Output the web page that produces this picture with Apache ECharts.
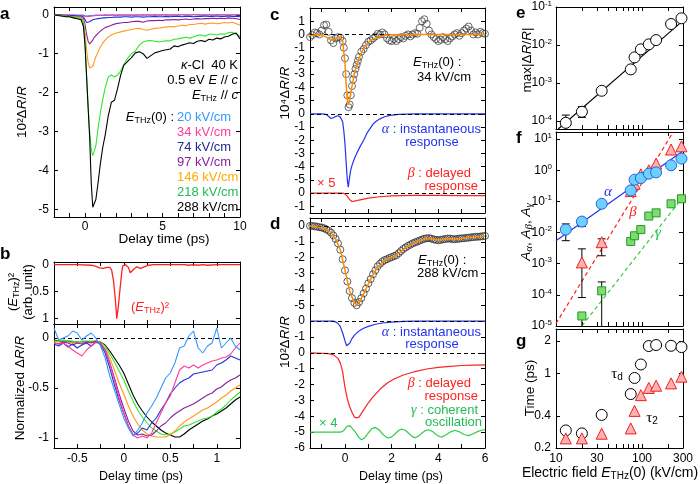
<!DOCTYPE html>
<html><head><meta charset="utf-8">
<script src="https://cdn.jsdelivr.net/npm/echarts@6/dist/echarts.min.js"></script>
<style>html,body{margin:0;padding:0;background:#fff}#c{width:700px;height:484px}</style>
</head><body><div id="c"></div><script>
// ---------------- DATA ----------------
// Panel a : 10^2 dR/R vs delay time (ps)
const tA = [-2,-1.75,-1.5,-1.25,-1,-0.75,-0.5,-0.25,-0.1,0,0.1,0.2,0.3,0.4,0.5,0.6,0.7,0.85,1,1.15,1.3,1.5,1.7,1.9,2.1,2.3,2.5,
  2.75,3,3.25,3.5,3.75,4,4.25,4.5,4.75,5,5.25,5.5,5.75,6,6.25,6.5,6.75,7,7.25,7.5,7.75,8,8.25,8.5,8.75,9,9.25,9.5,9.75,10];
const a20 = [0,0,-0.01,0,-0.01,-0.01,-0.01,-0.01, -0.01,-0.02, -0.03,-0.03,-0.02,-0.02,-0.02,-0.01,-0.01, -0.01,-0.01,-0.01,0, -0.01,0,-0.01,0,0,-0.01,
  0,-0.01,0,0,-0.01,0,0,-0.01,0,0, 0,-0.01,0,0,0,-0.01,0,0,0,0, -0.01,0,0,0,0,0,-0.01,0,0,0];
const a34 = [0,0,-0.01,-0.01,-0.01,-0.01,-0.02,-0.02, -0.02,-0.03, -0.05,-0.05,-0.04,-0.03,-0.03,-0.02,-0.02, -0.02,-0.02,-0.02,-0.01, -0.02,-0.01,-0.01,-0.02,-0.01,-0.01,
  -0.01,-0.01,-0.02,-0.01,0,-0.01,-0.01,0,-0.01,-0.01, 0,-0.01,0,-0.01,0,0,-0.01,0,0,-0.01, 0,0,-0.01,0,0,0,-0.01,0,0,0];
const a74 = [0,-0.01,-0.01,-0.02,-0.02,-0.02,-0.03,-0.03, -0.05,-0.1, -0.2,-0.22,-0.18,-0.15,-0.13,-0.12,-0.11, -0.1,-0.09,-0.08,-0.08, -0.07,-0.07,-0.06,-0.06,-0.06,-0.05,
  -0.05,-0.06,-0.05,-0.05,-0.06,-0.05,-0.05,-0.04,-0.05,-0.05, -0.04,-0.05,-0.04,-0.04,-0.05,-0.04,-0.04,-0.05,-0.04,-0.04, -0.03,-0.04,-0.04,-0.03,-0.04,-0.04,-0.03,-0.04,-0.04,-0.05];
const a97 = [0,-0.01,-0.02,-0.03,-0.03,-0.04,-0.05,-0.06, -0.1,-0.25, -0.5,-0.68,-0.75,-0.72,-0.65,-0.58,-0.53, -0.47,-0.42,-0.37,-0.33, -0.3,-0.27,-0.24,-0.22,-0.21,-0.2,
  -0.2,-0.18,-0.17,-0.17,-0.19,-0.16,-0.15,-0.15,-0.14,-0.15, -0.13,-0.13,-0.12,-0.13,-0.12,-0.11,-0.12,-0.11,-0.1,-0.11, -0.1,-0.1,-0.09,-0.1,-0.09,-0.1,-0.08,-0.09,-0.1,-0.12];
const a146 = [0,-0.02,-0.02,-0.04,-0.04,-0.05,-0.06,-0.08, -0.15,-0.45, -0.9,-1.22,-1.37,-1.4,-1.33,-1.2,-1.08, -0.95,-0.82,-0.72,-0.65, -0.57,-0.52,-0.48,-0.46,-0.44,-0.42,
  -0.4,-0.38,-0.36,-0.35,-0.38,-0.4,-0.37,-0.35,-0.34,-0.33, -0.31,-0.3,-0.31,-0.29,-0.27,-0.28,-0.25,-0.25,-0.23,-0.22, -0.24,-0.22,-0.21,-0.23,-0.22,-0.2,-0.21,-0.19,-0.23,-0.27];
const a218 = [0,-0.02,-0.03,-0.04,-0.05,-0.06,-0.08,-0.1, -0.2,-0.75, -1.55,-2.35,-3.0,-3.45,-3.62,-3.5,-3.37, -2.9,-2.5,-2.17,-1.88, -1.6,-1.55,-1.6,-1.55,-1.45,-1.28,
  -1.12,-1.0,-0.93,-0.78,-0.7,-0.67,-0.66,-0.68,-0.7,-0.68, -0.67,-0.67,-0.63,-0.62,-0.6,-0.58,-0.6,-0.57,-0.53,-0.52, -0.55,-0.5,-0.5,-0.52,-0.49,-0.5,-0.46,-0.45,-0.5,-0.55];
const a288 = [0,-0.02,-0.03,-0.05,-0.05,-0.08,-0.1,-0.13, -0.3,-0.77, -1.57,-2.37,-3.15,-4.3,-4.95,-4.95,-4.75, -4.3,-3.8,-3.4,-3.1, -2.6,-2.25,-2.2,-1.9,-1.55,-1.3,
  -1.2,-1.1,-0.98,-0.95,-1.0,-1.12,-1.05,-0.98,-0.95,-0.92, -0.9,-0.88,-0.8,-0.82,-0.78,-0.75,-0.72,-0.74,-0.68,-0.66, -0.69,-0.63,-0.65,-0.6,-0.62,-0.57,-0.55,-0.5,-0.47,-0.62];
const fieldLabels = ['20 kV/cm','34 kV/cm','74 kV/cm','97 kV/cm','146 kV/cm','218 kV/cm','288 kV/cm'];

// Panel b (top): (E_THz)^2 ; (bottom): normalized dR/R
const tE = [-0.75,-0.5,-0.35,-0.3,-0.26,-0.22,-0.18,-0.15,-0.13,-0.11,-0.09,-0.075,-0.06,-0.04,-0.02,-0.01,0.02,0.05,0.07,0.09,0.11,0.14,0.18,0.22,0.27,0.32,0.5,0.65,0.7,0.75,0.8,0.85,0.9,1.0,1.25];
const E2 = [0,0,0.01,0.03,0.06,0.07,0.05,0.05,0.1,0.3,0.65,1.0,0.8,0.45,0.12,0.02,0,0.05,0.15,0.17,0.08,0.04,0.07,0.04,0.01,0,0,0,0.01,0,0.01,0,0.01,0,0];
const tB = [-0.75,-0.7,-0.65,-0.6,-0.55,-0.5,-0.45,-0.4,-0.35,-0.3,-0.25,-0.2,-0.15,-0.1,-0.05,0,0.05,0.1,0.15,0.2,0.25,0.3,0.35,0.4,0.45,
  0.5,0.55,0.6,0.65,0.7,0.75,0.8,0.85,0.9,0.95,1.0,1.05,1.1,1.15,1.2,1.25];
const n20 = [0.1,-0.02,0.0,0.02,0.07,0.05,-0.02,0.02,0.05,0.0,-0.08, -0.2,-0.38,-0.52,-0.66, -0.8,-0.9,-0.98,-0.92,-0.85,-0.75,-0.68,-0.6,-0.5,-0.4,
  -0.35,-0.25,-0.1,-0.08,0.02,0.07,-0.1,-0.15,-0.08,-0.05, 0.1,-0.1,-0.05,0.0,-0.08,-0.12];
const n34 = [-0.05,-0.06,-0.05,-0.08,-0.12,-0.15,-0.18,-0.12,-0.08,-0.04,-0.05, -0.12,-0.25,-0.42,-0.6, -0.75,-0.88,-0.97,-1.0,-0.98,-1.0,-0.95,-0.85,-0.75,-0.65,
  -0.58,-0.45,-0.32,-0.28,-0.3,-0.27,-0.3,-0.27,-0.25,-0.23, -0.22,-0.2,-0.19,-0.16,-0.1,-0.05];
const n74 = [-0.06,-0.08,-0.05,-0.09,-0.06,-0.1,-0.07,-0.05,-0.08,-0.04,-0.06, -0.15,-0.3,-0.47,-0.62, -0.75,-0.88,-0.97,-0.95,-0.9,-0.92,-0.85,-0.8,-0.72,-0.65,
  -0.56,-0.5,-0.45,-0.42,-0.4,-0.36,-0.35,-0.34,-0.33,-0.32, -0.27,-0.25,-0.22,-0.18,-0.2,-0.22];
const n97 = [-0.05,-0.06,-0.04,-0.05,-0.07,-0.05,-0.06,-0.04,-0.05,-0.03,-0.05, -0.12,-0.25,-0.4,-0.56, -0.7,-0.83,-0.93,-0.97,-0.96,-0.98,-0.97,-0.93,-0.88,-0.85,
  -0.8,-0.76,-0.73,-0.7,-0.68,-0.66,-0.63,-0.6,-0.57,-0.55, -0.51,-0.49,-0.45,-0.42,-0.4,-0.37];
const n146 = [-0.04,-0.04,-0.05,-0.04,-0.05,-0.05,-0.04,-0.05,-0.04,-0.05,-0.05, -0.1,-0.2,-0.32,-0.45, -0.56,-0.68,-0.78,-0.86,-0.92,-0.96,-0.98,-0.99,-0.99,-0.99,
  -0.97,-0.93,-0.88,-0.84,-0.81,-0.78,-0.75,-0.72,-0.7,-0.67, -0.64,-0.6,-0.57,-0.53,-0.5,-0.47];
const n218 = [-0.03,-0.03,-0.02,-0.03,-0.03,-0.04,-0.03,-0.03,-0.03,-0.03,-0.04, -0.08,-0.16,-0.24,-0.33, -0.42,-0.53,-0.63,-0.72,-0.79,-0.85,-0.9,-0.93,-0.96,-0.97,
  -0.96,-0.94,-0.91,-0.88,-0.87,-0.85,-0.83,-0.81,-0.8,-0.78, -0.74,-0.71,-0.67,-0.62,-0.58,-0.54];
const n288 = [-0.02,-0.03,-0.03,-0.03,-0.04,-0.04,-0.04,-0.04,-0.04,-0.04,-0.04, -0.07,-0.13,-0.2,-0.27, -0.35,-0.46,-0.57,-0.66,-0.73,-0.79,-0.84,-0.88,-0.92,-0.95,
  -0.97,-0.99,-0.99,-0.96,-0.92,-0.89,-0.86,-0.83,-0.81,-0.78, -0.76,-0.73,-0.7,-0.66,-0.62,-0.59];

// Panel c (34 kV/cm, 10^4 dR/R): [t, value]
const cData = [[-1.5,-0.2],[-1.4,-0.05],[-1.3,0.15],[-1.2,0.1],[-1.1,0],[-1.0,0.3],[-0.9,0.7],[-0.8,0.75],[-0.7,0.2],[-0.6,-0.45],[-0.5,-0.65],[-0.4,-0.3],[-0.3,-0.2],[-0.2,-0.25],
  [-0.1,-0.5],[-0.05,-1.0],[0,-1.8],[0.05,-3.0],[0.1,-4.6],[0.15,-5.5],[0.2,-5.3],[0.25,-4.6],[0.3,-3.9],[0.35,-3.4],[0.4,-3.0],[0.45,-2.6],[0.5,-2.3],[0.55,-2.0],[0.6,-1.7],
  [0.7,-1.3],[0.8,-1.1],[0.9,-0.8],[1.0,-0.55],[1.1,-0.45],[1.2,-0.3],[1.3,-0.15],[1.4,0.05],[1.5,0],[1.6,0.15],[1.7,0],[1.8,-0.3],[1.9,-0.45],[2.0,-0.5],[2.1,-0.35],[2.2,-0.5],
  [2.3,-0.35],[2.4,-0.2],[2.5,-0.3],[2.6,-0.1],[2.7,0],[2.8,-0.15],[2.9,0],[3.0,0.1],[3.1,0.05],[3.2,0.5],[3.3,1.0],[3.4,1.15],[3.5,0.8],[3.6,0.3],[3.7,0],[3.8,-0.2],[3.9,-0.35],
  [4.0,-0.5],[4.1,-0.4],[4.2,-0.2],[4.3,-0.35],[4.4,-0.5],[4.5,-0.3],[4.6,-0.15],[4.7,0],[4.8,0.1],[4.9,-0.1],[5.0,0.1],[5.1,0.3],[5.2,0.45],[5.3,0.6],[5.4,0.3],[5.5,0],[5.6,0.15],[5.7,0],[5.8,0.2],[5.9,0.1],[6.0,0.05]];
const cFit = [[-1.5,-0.1],[-1.2,0],[-1.0,-0.05],[-0.8,-0.2],[-0.6,-0.4],[-0.5,-0.42],[-0.4,-0.3],[-0.3,-0.2],[-0.2,-0.2],[-0.1,-0.5],[0,-2.2],[0.05,-3.8],[0.1,-5.0],[0.15,-5.3],[0.2,-4.9],
  [0.3,-3.9],[0.4,-3.0],[0.5,-2.3],[0.6,-1.8],[0.7,-1.4],[0.8,-1.05],[1.0,-0.6],[1.2,-0.35],[1.4,-0.2],[1.7,-0.08],[2.0,-0.03],[3.0,0],[6.0,0]];
const cAlpha = [[-1.5,0],[-1.0,0],[-0.8,-0.05],[-0.7,-0.2],[-0.6,-0.35],[-0.5,-0.3],[-0.4,-0.2],[-0.3,-0.15],[-0.2,-0.25],[-0.1,-0.6],[-0.05,-1.3],[0,-2.3],[0.05,-3.7],[0.1,-5.0],
  [0.14,-5.55],[0.18,-5.0],[0.24,-4.3],[0.3,-3.9],[0.4,-3.4],[0.5,-3.0],[0.64,-2.5],[0.8,-2.0],[0.93,-1.5],[1.1,-1.05],[1.21,-0.76],[1.35,-0.55],[1.5,-0.38],[1.7,-0.22],[1.93,-0.12],[2.3,-0.05],[3.0,0],[6.0,0]];
const cBeta = [[-1.5,0],[-0.1,0],[0,-0.05],[0.1,-0.25],[0.2,-0.5],[0.3,-0.63],[0.4,-0.6],[0.6,-0.52],[0.8,-0.45],[1.0,-0.38],[1.5,-0.27],[2.0,-0.2],[2.5,-0.18],[3.0,-0.17],[4.0,-0.17],[5.0,-0.18],[6.0,-0.18]];

// Panel d (288 kV/cm, 10^2 dR/R): [t, value]
const dData = [[-1.5,0],[-1.4,0],[-1.3,-0.02],[-1.2,-0.05],[-1.1,-0.08],[-1.0,-0.1],[-0.9,-0.15],[-0.8,-0.22],[-0.7,-0.3],[-0.6,-0.42],[-0.5,-0.6],[-0.4,-0.82],[-0.3,-1.1],[-0.2,-1.5],
  [-0.1,-2.1],[0,-2.8],[0.1,-3.5],[0.2,-4.1],[0.3,-4.55],[0.4,-4.85],[0.5,-5.0],[0.6,-4.8],[0.7,-4.55],[0.8,-4.25],[0.9,-3.95],[1.0,-3.62],[1.1,-3.35],[1.2,-3.05],[1.3,-2.8],[1.4,-2.55],
  [1.5,-2.38],[1.6,-2.25],[1.7,-2.15],[1.8,-2.1],[1.9,-2.02],[2.0,-1.97],[2.1,-1.9],[2.2,-1.85],[2.3,-1.72],[2.4,-1.58],[2.5,-1.45],[2.6,-1.35],[2.7,-1.26],[2.8,-1.18],[2.9,-1.1],
  [3.0,-1.04],[3.1,-0.98],[3.2,-0.92],[3.3,-0.86],[3.4,-0.81],[3.5,-0.78],[3.6,-0.77],[3.7,-0.8],[3.8,-0.85],[3.9,-0.88],[4.0,-0.9],[4.1,-0.88],[4.2,-0.85],[4.3,-0.82],[4.4,-0.8],
  [4.5,-0.8],[4.6,-0.83],[4.7,-0.84],[4.8,-0.82],[4.9,-0.8],[5.0,-0.78],[5.1,-0.78],[5.2,-0.75],[5.3,-0.74],[5.4,-0.72],[5.5,-0.7],[5.6,-0.69],[5.7,-0.68],[5.8,-0.67],[5.9,-0.65],[6.0,-0.63]];
const dFit = [[-1.5,0],[-1.0,-0.1],[-0.8,-0.22],[-0.6,-0.42],[-0.4,-0.82],[-0.2,-1.5],[0,-2.8],[0.2,-4.1],[0.4,-4.85],[0.5,-4.98],[0.6,-4.85],[0.8,-4.28],[1.0,-3.65],[1.2,-3.08],[1.4,-2.6],
  [1.6,-2.28],[1.8,-2.1],[2.0,-1.98],[2.2,-1.85],[2.4,-1.6],[2.6,-1.38],[2.8,-1.2],[3.0,-1.05],[3.2,-0.93],[3.4,-0.83],[3.6,-0.8],[3.8,-0.84],[4.0,-0.88],[4.2,-0.85],[4.4,-0.81],
  [4.6,-0.82],[4.8,-0.82],[5.0,-0.78],[5.2,-0.75],[5.4,-0.72],[5.6,-0.69],[5.8,-0.67],[6.0,-0.63]];
const dAlpha = [[-1.5,0],[-0.5,0],[-0.4,-0.05],[-0.3,-0.15],[-0.2,-0.35],[-0.1,-0.75],[0,-1.25],[0.07,-1.55],[0.12,-1.62],[0.2,-1.4],[0.3,-1.1],[0.4,-0.9],[0.6,-0.62],[0.8,-0.45],
  [1.0,-0.33],[1.3,-0.2],[1.6,-0.12],[2.0,-0.06],[2.5,-0.02],[3.0,0],[6.0,0]];
const dBeta = [[-1.5,0],[-0.7,-0.05],[-0.5,-0.13],[-0.3,-0.35],[-0.2,-0.65],[-0.1,-1.2],[0,-2.2],[0.1,-2.9],[0.2,-3.4],[0.3,-3.75],[0.4,-4.05],[0.5,-4.1],[0.6,-4.05],[0.8,-3.6],
  [1.0,-3.15],[1.2,-2.78],[1.5,-2.3],[1.8,-1.92],[2.1,-1.65],[2.5,-1.4],[3.0,-1.18],[3.5,-1.02],[4.0,-0.92],[4.5,-0.85],[5.0,-0.8],[5.5,-0.78],[6.0,-0.76]];
const dGamma = [[-1.5,0],[-0.2,0],[-0.1,0.05],[0,0.2],[0.1,0.38],[0.2,0.4],[0.3,0.25],[0.45,0],[0.6,-0.35],[0.71,-0.48],[0.85,-0.35],[1.0,-0.05],[1.15,0.22],[1.29,0.3],[1.45,0.15],
  [1.6,-0.1],[1.75,-0.3],[1.86,-0.37],[2.0,-0.3],[2.15,-0.1],[2.3,0.1],[2.43,0.2],[2.6,0.1],[2.75,-0.1],[2.9,-0.3],[3.0,-0.35],[3.15,-0.25],[3.3,-0.05],[3.45,0.1],[3.57,0.15],
  [3.75,0.05],[3.9,-0.15],[4.05,-0.28],[4.15,-0.3],[4.3,-0.2],[4.5,0],[4.72,0.12],[4.9,0.02],[5.1,-0.15],[5.3,-0.22],[5.5,-0.1],[5.7,0.05],[5.94,0.15],[6.0,0.15]];

// Panels e, f, g vs electric field (kV/cm)
const field = [13,20,34,74,82,97,120,146,218,288];
const maxDR = [9.0e-5,1.76e-4,6.27e-4,2.29e-3,4.74e-3,7.7e-3,1.04e-2,1.35e-2,3.57e-2,5.05e-2];
const eFitLine = [[10.6,6.2e-5],[300,0.044]];
const eErr = [[13,6.2e-5,1.44e-4],[20,1.25e-4,2.4e-4]];
const ampAlpha = [1.25e-2,2.26e-2,8.4e-2,0.226,0.5,0.565,0.78,0.86,1.45,2.38];
const fieldBG = [20,34,74,82,97,120,146,218,288];
const ampBeta = [1.1e-3,4.9e-3,0.215,0.37,0.74,1.0,1.64,4.65,5.9];
const ampGamma = [2.1e-5,1.35e-4,5.2e-3,7.9e-3,1.25e-2,3.4e-2,4.3e-2,8.4e-2,0.122];
const fitAlpha = [[10,5.5e-3],[300,4.2]];
const fitBeta = [[10,1.2e-5],[231,17]];
const fitGamma = [[20,1e-5],[300,0.14]];
const errAlpha = [[13,5.5e-3,1.9e-2],[20,1.56e-2,3.0e-2]];
const errBeta = [[20,8.2e-5,3.0e-3],[34,1.8e-3,6.3e-3],[74,0.17,0.26]];
const errGamma = [[20,1e-5,2.1e-5],[34,1e-5,2.6e-4]];
const tauD = [0.292,0.274,0.408,0.64,0.905,1.21,1.80,1.84,1.81,1.76];
const tau2 = [0.246,0.246,0.272,0.305,0.445,0.625,0.73,0.766,0.805,0.93];

// tick / label lists
const ticksAx = [-2,-1,0,1,2,3,4,5,6,7,8,9,10], labelsAx = [0,5,10];
const ticksAy = [-5,-4,-3,-2,-1,0];
const ticksB = [-0.75,-0.5,-0.25,0,0.25,0.5,0.75,1,1.25], labelsB = [-0.5,0,0.5,1];
const ticksBtop = [0,0.5,1], ticksBbot = [-1,-0.5,0];
const ticksCD = [-1,0,1,2,3,4,5,6], labelsD = [0,2,4,6];
const ticksCy = [-13,-12,-11,-10,-9,-8,-7,-6,-5,-4,-3,-2,-1,0,1];
const ticksDy = [-14,-13,-12,-11,-10,-9,-8,-7,-6,-5,-4,-3,-2,-1,0];
const cOffsets = [0,-6,-12], dOffsets = [0,-6,-8,-13];
const ticksField = [20,30,40,50,60,70,80,90,100,200], labelsField = [10,30,100,300];
const ticksE = [1e-4,1e-3,1e-2,1e-1], ticksF = [1e-5,1e-4,1e-3,1e-2,1e-1,1,10], ticksG = [0.2,0.4,1,2];

// ---------------- CHART ----------------
const F = "'Liberation Sans', Arial, Helvetica, sans-serif";
const SERIF = "'Liberation Serif', 'DejaVu Serif', serif";
const COL = {c20:'#3399ff', c34:'#ff3d9a', c74:'#2030e0', c97:'#8a1f9e', c146:'#ff9a1a', c218:'#2ee82e', c288:'#000',
  t74:'#1b2c8c', t146:'#ffaa00', t218:'#22bb55', blue:'#2233ee', red:'#ff2020', green:'#33cc44', orange:'#ff8c00'};

function zRich(size, color){
  return { i:{fontStyle:'italic', fontSize:size, fill:color, fontFamily:F},
    g:{fontStyle:'italic', fontSize:size+1, fill:color, fontFamily:SERIF},
    s:{fontSize:size+1, fill:color, fontFamily:SERIF},
    sub:{fontSize:Math.round(size*0.68), fill:color, fontFamily:F, padding:[Math.round(size*0.5),0,0,0]},
    gsub:{fontSize:Math.round(size*0.78), fill:color, fontFamily:SERIF, fontStyle:'italic', padding:[Math.round(size*0.5),0,0,0]},
    sup:{fontSize:Math.round(size*0.68), fill:color, fontFamily:F, padding:[0,0,Math.round(size*0.55),0]} };
}

const grids = [], xAxes = [], yAxes = [], series = [];
function axis(o, pos, showLab){
  return {
    type: o.type || 'value', gridIndex: o.grid, position: pos, min: o.min, max: o.max, inverse: !!o.inverse,
    logBase: 10, splitLine:{show:false}, silent:true, name:'',
    axisLine:{show:true, onZero:false, lineStyle:{color:'#000', width:1}},
    axisTick:{show:true, inside:true, length:4, customValues:o.ticks, lineStyle:{color:'#000', width:1}},
    axisLabel:{show: showLab && !!o.labels, customValues:o.labels, formatter:o.fmt, color:'#000', fontFamily:F, fontSize:12, margin:o.margin ?? 5, rich:o.rich}
  };
}
function panel(g, xo, yo){
  const gi = grids.length;
  grids.push({left:g[0], top:g[1], width:g[2], height:g[3], show:false, containLabel:false, outerBoundsMode:'none'});
  xo.grid = gi; yo.grid = gi;
  xAxes.push(axis(xo,'bottom',true), axis(xo,'top',false));
  yAxes.push(axis(yo,'left',true), axis(yo,'right',false));
  return 2*gi;
}
const supFmt = v => '10{sup|' + Math.round(Math.log10(v)) + '}';
const supRich = {sup:{fontSize:8, fontFamily:F, color:'#000', padding:[0,0,7,0]}};

const pA = panel([54,7,186,210],
  {min:-2, max:10, ticks:ticksAx, labels:labelsAx, margin:4},
  {min:-5.2, max:0.2, ticks:ticksAy, labels:ticksAy});
const pB1 = panel([54,262,186,62],
  {min:-0.75, max:1.25, ticks:ticksB},
  {min:-0.05, max:1.1, inverse:true, ticks:ticksBtop, labels:ticksBtop, fmt:v=>String(v)});
const pB2 = panel([54,324,186,124],
  {min:-0.75, max:1.25, ticks:ticksB, labels:labelsB, fmt:v=>String(v)},
  {min:-1.1, max:0.14, ticks:ticksBbot, labels:ticksBbot, fmt:v=>String(v)});
const cLab = v => String(v >= cOffsets[1] + 0.5 ? v - cOffsets[0] : v >= cOffsets[2] + 0.5 ? v - cOffsets[1] : v - cOffsets[2]);
const pC = panel([310,8,175,205],
  {min:-1.5, max:6, ticks:ticksCD},
  {min:-13.5, max:2, ticks:ticksCy, labels:ticksCy, fmt:cLab});
const dLab = v => String(v >= dOffsets[1] + 0.5 ? v - dOffsets[0] : v >= dOffsets[2] + 0.5 ? v - dOffsets[1] : v - dOffsets[2]);
const pD = panel([310,218,175,230],
  {min:-1.5, max:6, ticks:ticksCD, labels:labelsD},
  {min:-14, max:0.5, ticks:ticksDy, labels:ticksDy, fmt:dLab});
const pE = panel([556,7,127,122],
  {type:'log', min:10, max:300, ticks:ticksField},
  {type:'log', min:6.2e-5, max:0.1, ticks:ticksE, labels:ticksE, fmt:supFmt, rich:supRich, margin:4});
const pF = panel([556,132,127,194],
  {type:'log', min:10, max:300, ticks:ticksField},
  {type:'log', min:1e-5, max:17, ticks:ticksF, labels:ticksF, fmt:supFmt, rich:supRich, margin:4});
const pG = panel([556,329,127,119],
  {type:'log', min:10, max:300, ticks:ticksField, labels:labelsField, fmt:v=>String(Math.round(v))},
  {type:'log', min:0.2, max:2.6, ticks:ticksG, labels:ticksG, fmt:v=>String(v)});

function line(ax, data, color, width, dashed, z){
  return {type:'line', xAxisIndex:ax, yAxisIndex:ax, data, symbol:'none', showSymbol:false, silent:true,
    lineStyle:{color, width:width || 1.2, type: dashed ? [4,3] : 'solid'}, z: z || 3, clip:true, animation:false};
}
function scatter(ax, data, symbol, size, fill, stroke, bw, z){
  return {type:'scatter', xAxisIndex:ax, yAxisIndex:ax, data, symbol, symbolSize:size, silent:true, z: z || 5,
    itemStyle:{color:fill, borderColor:stroke, borderWidth: bw || 1, opacity:1}, animation:false};
}
function dashes(ax, levels){
  return {type:'line', xAxisIndex:ax, yAxisIndex:ax, data:[], silent:true, z:1,
    markLine:{silent:true, symbol:'none', animation:false, label:{show:false}, lineStyle:{color:'#000', type:[4,3], width:1},
      data: levels.map(v => ({yAxis:v}))}};
}
function errBars(ax, data, yMin){
  return {type:'custom', xAxisIndex:ax, yAxisIndex:ax, data, z:4, silent:true, clip:true, encode:{x:0, y:[1,2]},
    renderItem(p, api){
      const x = api.value(0), lo = api.value(1), hi = api.value(2);
      const a = api.coord([x, lo]), b = api.coord([x, hi]), w = 4, st = {stroke:'#000', lineWidth:1};
      const ch = [{type:'line', shape:{x1:a[0], y1:a[1], x2:b[0], y2:b[1]}, style:st}];
      if (lo > yMin * 1.05) ch.push({type:'line', shape:{x1:a[0]-w, y1:a[1], x2:a[0]+w, y2:a[1]}, style:st});
      ch.push({type:'line', shape:{x1:b[0]-w, y1:b[1], x2:b[0]+w, y2:b[1]}, style:st});
      return {type:'group', children:ch};
    }};
}
const zip = (xs, ys) => xs.map((x, i) => [x, ys[i]]);
const shift = (pts, off) => pts.map(p => [p[0], p[1] + off]);

// a
[[a20,COL.c20],[a34,COL.c34],[a74,COL.c74],[a97,COL.c97],[a146,COL.c146],[a218,COL.c218],[a288,COL.c288]]
  .forEach(([d,c], i) => series.push(line(pA, zip(tA, d), c, 1.1, false, 3 + i)));
// b
series.push(line(pB1, zip(tE, E2), COL.red, 1.3));
series.push(dashes(pB2, [0]));
[[n20,COL.c20],[n34,COL.c34],[n74,COL.c74],[n97,COL.c97],[n146,COL.c146],[n218,COL.c218],[n288,COL.c288]]
  .forEach(([d,c], i) => series.push(line(pB2, zip(tB, d), c, 1.1, false, 9 - i)));
// c
series.push(dashes(pC, cOffsets));
series.push(scatter(pC, shift(cData, cOffsets[0]), 'circle', 7, 'rgba(255,255,255,0)', '#444', 0.8, 4));
series.push(line(pC, shift(cFit, cOffsets[0]), COL.orange, 1.5, false, 6));
series.push(line(pC, shift(cAlpha, cOffsets[1]), COL.blue, 1.2));
series.push(line(pC, shift(cBeta, cOffsets[2]), COL.red, 1.2));
// d
series.push(dashes(pD, dOffsets.slice(0,3)));
series.push(scatter(pD, shift(dData, dOffsets[0]), 'circle', 7, 'rgba(255,255,255,0)', '#333', 0.8, 4));
series.push(line(pD, shift(dFit, dOffsets[0]), COL.orange, 1.5, false, 6));
series.push(line(pD, shift(dAlpha, dOffsets[1]), COL.blue, 1.2));
series.push(line(pD, shift(dBeta, dOffsets[2]), COL.red, 1.2));
series.push(line(pD, shift(dGamma, dOffsets[3]), COL.green, 1.2));
// e
series.push(line(pE, eFitLine, '#000', 1.1));
series.push(errBars(pE, eErr, 6.2e-5));
series.push(scatter(pE, zip(field, maxDR), 'circle', 11, '#fff', '#000', 1));
// f
series.push(line(pF, fitAlpha, COL.blue, 1.2));
series.push(line(pF, fitBeta, COL.red, 1.2, true));
series.push(line(pF, fitGamma, COL.green, 1.2, true));
series.push(errBars(pF, errAlpha, 1e-5), errBars(pF, errBeta, 1e-5), errBars(pF, errGamma, 1e-5));
series.push(scatter(pF, zip(fieldBG, ampGamma), 'rect', 8, '#7ddc6a', '#1f9a2a', 1, 5));
series.push(scatter(pF, zip(fieldBG, ampBeta), 'triangle', 11, '#ffb0b0', '#ee2222', 1, 6));
series.push(scatter(pF, zip(field, ampAlpha), 'circle', 11, '#6fd0ff', '#1f66dd', 1, 7));
// g
series.push(scatter(pG, zip(field, tauD), 'circle', 11, '#fff', '#000', 1, 5));
series.push(scatter(pG, zip(field, tau2), 'triangle', 11, '#ffb0b0', '#ee2222', 1, 6));

// texts
function txt(x, y, text, color, size, align, extra, rot){
  const el = {type:'text', x, y, z:100, silent:true, style:Object.assign({text, fill:color || '#000', fontSize:size || 13, fontFamily:F,
    align: align || 'left', verticalAlign:'middle', textAlign: align || 'left', textVerticalAlign:'middle', rich:zRich(size || 13, color || '#000')}, extra || {})};
  if (rot) el.rotation = Math.PI / 2;
  return el;
}
const vt = (x, y, text, size) => txt(x, y, text, '#000', size || 13.5, 'center', null, true);
const graphics = [
  txt(0,14,'a','#000',17,'left',{fontWeight:'bold'}), txt(0,254,'b','#000',17,'left',{fontWeight:'bold'}),
  txt(270,15,'c','#000',17,'left',{fontWeight:'bold'}), txt(270,224,'d','#000',17,'left',{fontWeight:'bold'}),
  txt(516,13,'e','#000',17,'left',{fontWeight:'bold'}), txt(516,138,'f','#000',17,'left',{fontWeight:'bold'}),
  txt(516,341,'g','#000',17,'left',{fontWeight:'bold'}),
  // axis titles
  txt(164,239,'Delay time (ps)','#000',13.5,'center'),
  txt(141,477,'Delay time (ps)','#000',12.5,'center'),
  txt(401,477,'Delay time (ps)','#000',12.5,'center'),
  txt(610,473,'Electric field {i|E}{sub|THz}(0) (kV/cm)','#000',14,'center'),
  vt(22,112,'10²Δ{i|R}/{i|R}'),
  vt(13,292,'({i|E}{sub|THz})²',13), vt(28,292,'(arb. unit)',13),
  vt(20,388,'Normalized Δ{i|R}/{i|R}'),
  vt(285,93,'10⁴Δ{i|R}/{i|R}'),
  vt(285,342,'10²Δ{i|R}/{i|R}'),
  vt(527,60,'max|Δ{i|R}/{i|R}|'),
  vt(526,232,'{i|A}{gsub|α}, {i|A}{gsub|β}, {i|A}{gsub|γ}'),
  vt(530,388,'Time (ps)'),
  // panel a annotations
  txt(238,65,'{i|κ}-Cl  40 K','#000',13,'right'),
  txt(238,80,'0.5 eV {i|E} // {i|c}','#000',13,'right'),
  txt(238,95,'{i|E}{sub|THz} // {i|c}','#000',13,'right'),
  txt(174,117,'{i|E}{sub|THz}(0) :','#000',13,'right'),
  txt(177,117,fieldLabels[0],COL.c20,13), txt(177,132,fieldLabels[1],COL.c34,13), txt(177,147,fieldLabels[2],COL.t74,13),
  txt(177,162,fieldLabels[3],COL.c97,13), txt(177,177,fieldLabels[4],COL.t146,13), txt(177,192,fieldLabels[5],COL.t218,13),
  txt(177,207,fieldLabels[6],'#000',13),
  txt(150,307,'({i|E}{sub|THz})²',COL.red,13,'center'),
  // panel c/d annotations
  txt(413,62,'{i|E}{sub|THz}(0) :','#000',13), txt(417,77,'34 kV/cm','#000',13),
  txt(481,129,'{g|α} : instantaneous',COL.blue,13,'right'), txt(432,142,'response',COL.blue,13,'center'),
  txt(471,173,'{g|β} : delayed',COL.red,13,'right'), txt(478,186,'response',COL.red,13,'right'),
  txt(317,183,'× 5',COL.red,13),
  txt(418,260,'{i|E}{sub|THz}(0) :','#000',13), txt(417,273,'288 kV/cm','#000',13),
  txt(481,332,'{g|α} : instantaneous',COL.blue,13,'right'), txt(432,344,'response',COL.blue,13,'center'),
  txt(471,383,'{g|β} : delayed',COL.red,13,'right'), txt(478,396,'response',COL.red,13,'right'),
  txt(478,410,'{g|γ} : coherent',COL.t218,13,'right'), txt(482,422,'oscillation',COL.t218,13,'right'),
  txt(319,423,'× 4',COL.t218,13),
  // panel f/g annotations
  txt(608,192,'{g|α}',COL.blue,14,'center'), txt(633,212,'{g|β}',COL.red,14,'center'), txt(658,233,'{g|γ}',COL.t218,14,'center'),
  txt(617,374,'{s|τ}{sub|d}','#000',14,'center'), txt(652,418,'{s|τ}{sub|2}','#000',14,'center')
];

const chart = echarts.init(document.getElementById('c'), null, {renderer:'canvas', width:700, height:484});
chart.setOption({animation:false, backgroundColor:'#fff', grid:grids, xAxis:xAxes, yAxis:yAxes, series, graphic:graphics});
</script></body></html>
